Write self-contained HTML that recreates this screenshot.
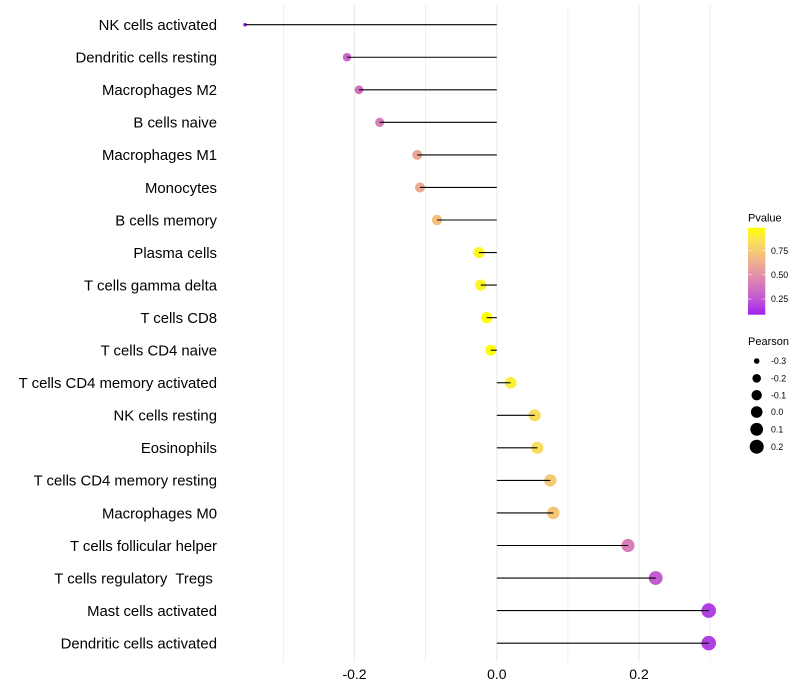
<!DOCTYPE html>
<html><head><meta charset="utf-8"><style>
html,body{margin:0;padding:0;background:#fff;}
svg{display:block;font-family:"Liberation Sans",sans-serif;}
</style></head><body>
<svg width="800" height="700" viewBox="0 0 800 700" xmlns="http://www.w3.org/2000/svg">
<defs>
<linearGradient id="pg" x1="0" y1="1" x2="0" y2="0">
<stop offset="0" stop-color="#A020F0"/>
<stop offset="0.125" stop-color="#B848DD"/>
<stop offset="0.25" stop-color="#CA65C9"/>
<stop offset="0.375" stop-color="#D980B5"/>
<stop offset="0.5" stop-color="#E59BA0"/>
<stop offset="0.625" stop-color="#EFB489"/>
<stop offset="0.75" stop-color="#F6CD6F"/>
<stop offset="0.875" stop-color="#FBE64E"/>
<stop offset="1" stop-color="#FFFF00"/>
</linearGradient>
</defs>
<rect width="800" height="700" fill="#fff"/>
<!-- grid -->
<g stroke="#ebebeb">
<line x1="283.5" y1="5" x2="283.5" y2="662" stroke-width="0.8"/>
<line x1="354.5" y1="5" x2="354.5" y2="662" stroke-width="1.1"/>
<line x1="425.6" y1="5" x2="425.6" y2="662" stroke-width="0.8"/>
<line x1="496.8" y1="5" x2="496.8" y2="662" stroke-width="1.1"/>
<line x1="567.9" y1="5" x2="567.9" y2="662" stroke-width="0.8"/>
<line x1="639" y1="5" x2="639" y2="662" stroke-width="1.1"/>
<line x1="710.1" y1="5" x2="710.1" y2="662" stroke-width="0.8"/>
</g>
<!-- points -->
<g>
<circle cx="245" cy="24.7" r="1.8" fill="#A020F0"/>
<circle cx="347" cy="57.25" r="4.2" fill="#CA65C9"/>
<circle cx="359" cy="89.8" r="4.4" fill="#D070C2"/>
<circle cx="379.7" cy="122.35" r="4.6" fill="#D87EB6"/>
<circle cx="417.3" cy="154.9" r="5.0" fill="#E9A795"/>
<circle cx="420" cy="187.45" r="5.0" fill="#EAA993"/>
<circle cx="437" cy="220" r="5.2" fill="#F2BF7E"/>
<circle cx="479" cy="252.55" r="5.6" fill="#FDF51F"/>
<circle cx="480.7" cy="285.1" r="5.6" fill="#FDF423"/>
<circle cx="486.7" cy="317.65" r="5.6" fill="#FFFF00"/>
<circle cx="490.7" cy="350.2" r="5.5" fill="#FFFC0A"/>
<circle cx="510.7" cy="382.75" r="5.9" fill="#FCEF3A"/>
<circle cx="534.7" cy="415.3" r="6.1" fill="#FADD5A"/>
<circle cx="537.3" cy="447.85" r="6.1" fill="#F9DB5D"/>
<circle cx="550.3" cy="480.4" r="6.2" fill="#F5C974"/>
<circle cx="553.3" cy="512.95" r="6.3" fill="#F4C678"/>
<circle cx="628" cy="545.5" r="6.6" fill="#D87DB7"/>
<circle cx="655.7" cy="578.05" r="6.9" fill="#C35BD1"/>
<circle cx="708.7" cy="610.6" r="7.3" fill="#B03FE4"/>
<circle cx="708.7" cy="643.15" r="7.3" fill="#B03FE4"/>
</g>
<!-- segments -->
<g stroke="#000" stroke-width="1.1">
<line x1="496.8" y1="24.7" x2="245" y2="24.7"/>
<line x1="496.8" y1="57.25" x2="347" y2="57.25"/>
<line x1="496.8" y1="89.8" x2="359" y2="89.8"/>
<line x1="496.8" y1="122.35" x2="379.7" y2="122.35"/>
<line x1="496.8" y1="154.9" x2="417.3" y2="154.9"/>
<line x1="496.8" y1="187.45" x2="420" y2="187.45"/>
<line x1="496.8" y1="220" x2="437" y2="220"/>
<line x1="496.8" y1="252.55" x2="479" y2="252.55"/>
<line x1="496.8" y1="285.1" x2="480.7" y2="285.1"/>
<line x1="496.8" y1="317.65" x2="486.7" y2="317.65"/>
<line x1="496.8" y1="350.2" x2="490.7" y2="350.2"/>
<line x1="496.8" y1="382.75" x2="510.7" y2="382.75"/>
<line x1="496.8" y1="415.3" x2="534.7" y2="415.3"/>
<line x1="496.8" y1="447.85" x2="537.3" y2="447.85"/>
<line x1="496.8" y1="480.4" x2="550.3" y2="480.4"/>
<line x1="496.8" y1="512.95" x2="553.3" y2="512.95"/>
<line x1="496.8" y1="545.5" x2="628" y2="545.5"/>
<line x1="496.8" y1="578.05" x2="655.7" y2="578.05"/>
<line x1="496.8" y1="610.6" x2="708.7" y2="610.6"/>
<line x1="496.8" y1="643.15" x2="708.7" y2="643.15"/>
</g>
<!-- y labels -->
<g font-size="14.9" fill="#000" text-anchor="end">
<text x="217" y="30">NK cells activated</text>
<text x="217" y="62.55">Dendritic cells resting</text>
<text x="217" y="95.1">Macrophages M2</text>
<text x="217" y="127.65">B cells naive</text>
<text x="217" y="160.2">Macrophages M1</text>
<text x="217" y="192.75">Monocytes</text>
<text x="217" y="225.3">B cells memory</text>
<text x="217" y="257.85">Plasma cells</text>
<text x="217" y="290.4">T cells gamma delta</text>
<text x="217" y="322.95">T cells CD8</text>
<text x="217" y="355.5">T cells CD4 naive</text>
<text x="217" y="388.05">T cells CD4 memory activated</text>
<text x="217" y="420.6">NK cells resting</text>
<text x="217" y="453.15">Eosinophils</text>
<text x="217" y="485.7">T cells CD4 memory resting</text>
<text x="217" y="518.25">Macrophages M0</text>
<text x="217" y="550.8">T cells follicular helper</text>
<text x="217" y="583.35">T cells regulatory&#160; Tregs&#160;</text>
<text x="217" y="615.9">Mast cells activated</text>
<text x="217" y="648.45">Dendritic cells activated</text>
</g>
<!-- x labels -->
<g font-size="14" fill="#000" text-anchor="middle">
<text x="354.5" y="679">-0.2</text>
<text x="496.8" y="679">0.0</text>
<text x="639" y="679">0.2</text>
</g>
<!-- legend Pvalue -->
<text x="748" y="221.5" font-size="11" fill="#000">Pvalue</text>
<rect x="748" y="227.7" width="17.3" height="87" fill="url(#pg)"/>
<g stroke="#fff" stroke-opacity="0.7" stroke-width="0.8">
<line x1="748" y1="250.7" x2="751.5" y2="250.7"/><line x1="761.8" y1="250.7" x2="765.3" y2="250.7"/>
<line x1="748" y1="274.7" x2="751.5" y2="274.7"/><line x1="761.8" y1="274.7" x2="765.3" y2="274.7"/>
<line x1="748" y1="299" x2="751.5" y2="299"/><line x1="761.8" y1="299" x2="765.3" y2="299"/>
</g>
<g font-size="8.8" fill="#000">
<text x="771" y="253.8">0.75</text>
<text x="771" y="277.8">0.50</text>
<text x="771" y="302.1">0.25</text>
</g>
<!-- legend Pearson -->
<text x="748" y="345" font-size="11" fill="#000">Pearson</text>
<g fill="#000">
<circle cx="756.7" cy="361" r="2.8"/>
<circle cx="756.7" cy="378.3" r="4.3"/>
<circle cx="756.7" cy="395.2" r="5.2"/>
<circle cx="756.7" cy="412" r="5.8"/>
<circle cx="756.7" cy="429.3" r="6.4"/>
<circle cx="756.7" cy="446.7" r="7.0"/>
</g>
<g font-size="8.8" fill="#000">
<text x="771" y="364.1">-0.3</text>
<text x="771" y="381.4">-0.2</text>
<text x="771" y="398.3">-0.1</text>
<text x="771" y="415.1">0.0</text>
<text x="771" y="432.4">0.1</text>
<text x="771" y="449.8">0.2</text>
</g>
</svg>
</body></html>
